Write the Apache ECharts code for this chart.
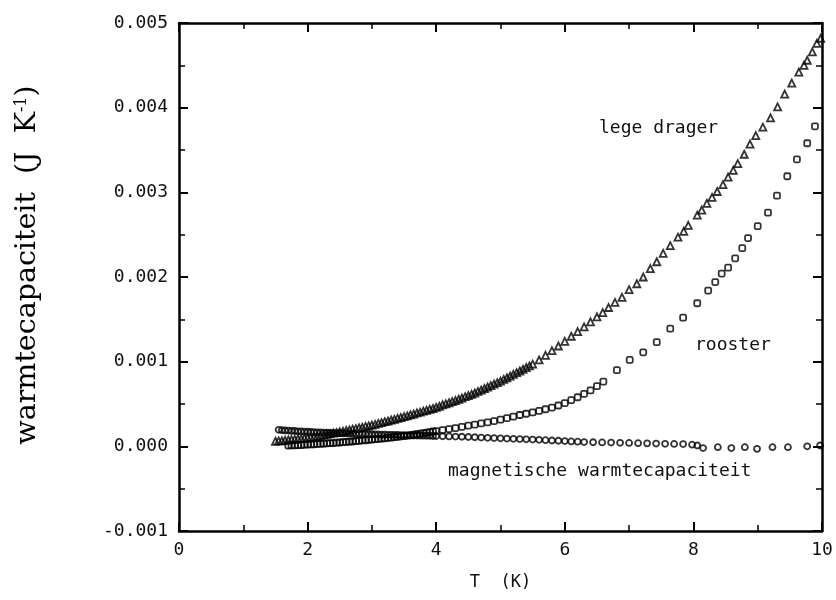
<!DOCTYPE html>
<html>
<head>
<meta charset="utf-8">
<script src="https://cdn.jsdelivr.net/npm/echarts@6/dist/echarts.min.js"></script>
<style>html,body{margin:0;padding:0;background:#fff}#c{width:836px;height:600px}</style>
</head>
<body>
<div id="c"></div>
<script>
// Temperatures (K) and heat capacities (in 1e-3 J/K, converted below)
var legeT = [1.50,1.55,1.60,1.65,1.70,1.75,1.80,1.85,1.90,1.95,2.00,2.05,2.10,2.15,2.20,2.25,2.30,2.35,2.40,2.45,2.50,2.55,2.60,2.65,2.70,2.75,2.80,2.85,2.90,2.95,3.00,3.05,3.10,3.15,3.20,3.25,3.30,3.35,3.40,3.45,3.50,3.55,3.60,3.65,3.70,3.75,3.80,3.85,3.90,3.95,4.00,4.05,4.1,4.15,4.2,4.25,4.3,4.35,4.4,4.45,4.5,4.55,4.6,4.65,4.7,4.75,4.8,4.85,4.9,4.95,5.0,5.05,5.1,5.15,5.2,5.25,5.3,5.35,5.4,5.45,5.5,5.6,5.7,5.8,5.9,6.0,6.1,6.2,6.3,6.4,6.5,6.59,6.68,6.78,6.89,7.0,7.12,7.22,7.33,7.43,7.53,7.64,7.76,7.85,7.92,8.06,8.13,8.21,8.29,8.37,8.46,8.54,8.62,8.69,8.79,8.88,8.97,9.08,9.20,9.31,9.42,9.53,9.64,9.72,9.77,9.85,9.92,9.98];
var legeC = [0.060,0.064,0.066,0.072,0.075,0.080,0.082,0.088,0.090,0.096,0.100,0.105,0.113,0.118,0.127,0.132,0.141,0.147,0.156,0.161,0.171,0.177,0.187,0.193,0.203,0.209,0.219,0.225,0.235,0.241,0.251,0.259,0.271,0.279,0.291,0.299,0.311,0.319,0.331,0.339,0.351,0.359,0.372,0.381,0.394,0.403,0.416,0.425,0.438,0.447,0.460,0.472,0.49,0.502,0.515,0.528,0.54,0.556,0.57,0.586,0.60,0.615,0.63,0.648,0.665,0.683,0.70,0.718,0.735,0.752,0.77,0.79,0.81,0.83,0.85,0.87,0.89,0.91,0.93,0.95,0.97,1.02,1.075,1.13,1.185,1.24,1.30,1.355,1.41,1.47,1.53,1.58,1.64,1.70,1.76,1.85,1.92,2.00,2.10,2.18,2.28,2.37,2.47,2.54,2.61,2.73,2.79,2.87,2.94,3.01,3.09,3.18,3.26,3.34,3.45,3.57,3.67,3.77,3.88,4.01,4.16,4.29,4.42,4.50,4.56,4.66,4.76,4.82];

var roosterT = [1.70,1.75,1.80,1.85,1.90,1.95,2.00,2.05,2.10,2.15,2.20,2.25,2.30,2.35,2.40,2.45,2.50,2.55,2.60,2.65,2.70,2.75,2.80,2.85,2.90,2.95,3.00,3.05,3.10,3.15,3.20,3.25,3.30,3.35,3.40,3.45,3.50,3.55,3.60,3.65,3.70,3.75,3.80,3.85,3.90,3.95,4.00,4.1,4.2,4.3,4.4,4.5,4.6,4.7,4.8,4.9,5.0,5.1,5.2,5.3,5.4,5.5,5.6,5.7,5.8,5.9,6.0,6.1,6.2,6.3,6.4,6.5,6.6,6.81,7.01,7.22,7.43,7.64,7.84,8.06,8.23,8.34,8.44,8.54,8.65,8.76,8.85,9.00,9.16,9.30,9.46,9.61,9.77,9.89];
var roosterC = [0.010,0.012,0.011,0.015,0.014,0.019,0.020,0.023,0.024,0.028,0.029,0.033,0.034,0.038,0.039,0.043,0.045,0.050,0.051,0.056,0.057,0.063,0.064,0.070,0.071,0.077,0.079,0.085,0.087,0.092,0.094,0.100,0.102,0.109,0.111,0.117,0.120,0.127,0.131,0.139,0.143,0.151,0.155,0.163,0.167,0.175,0.180,0.192,0.204,0.216,0.23,0.245,0.257,0.27,0.283,0.298,0.315,0.333,0.352,0.37,0.385,0.40,0.418,0.438,0.458,0.482,0.51,0.545,0.58,0.62,0.66,0.71,0.765,0.90,1.02,1.11,1.23,1.39,1.52,1.69,1.84,1.94,2.04,2.11,2.22,2.34,2.46,2.60,2.76,2.96,3.19,3.39,3.58,3.78];

var magT = [1.55,1.60,1.65,1.70,1.75,1.80,1.85,1.90,1.95,2.00,2.05,2.10,2.15,2.20,2.25,2.30,2.35,2.40,2.45,2.50,2.55,2.60,2.65,2.70,2.75,2.80,2.85,2.90,2.95,3.00,3.05,3.10,3.15,3.20,3.25,3.30,3.35,3.40,3.45,3.50,3.55,3.60,3.65,3.70,3.75,3.80,3.85,3.90,3.95,4.00,4.1,4.2,4.3,4.4,4.5,4.6,4.7,4.8,4.9,5.0,5.1,5.2,5.3,5.4,5.5,5.6,5.7,5.8,5.9,6.0,6.1,6.2,6.30,6.44,6.58,6.72,6.86,7.00,7.14,7.28,7.42,7.56,7.70,7.84,7.98,8.06,8.15,8.38,8.59,8.80,8.99,9.23,9.47,9.77,9.97];
var magC = [0.195,0.191,0.187,0.186,0.182,0.181,0.177,0.176,0.173,0.172,0.169,0.168,0.165,0.165,0.162,0.162,0.159,0.159,0.156,0.156,0.153,0.153,0.150,0.150,0.148,0.148,0.146,0.146,0.143,0.143,0.140,0.140,0.138,0.138,0.136,0.136,0.134,0.134,0.132,0.132,0.130,0.130,0.128,0.128,0.126,0.126,0.124,0.124,0.122,0.122,0.119,0.117,0.115,0.113,0.11,0.107,0.104,0.101,0.098,0.095,0.092,0.089,0.086,0.083,0.08,0.077,0.073,0.069,0.066,0.062,0.058,0.055,0.05,0.048,0.046,0.044,0.042,0.04,0.037,0.035,0.033,0.03,0.028,0.027,0.02,0.01,-0.02,-0.01,-0.02,-0.01,-0.03,-0.01,-0.01,0.0,0.01];

var xTicks = [0,2,4,6,8,10];
var yTicks = [-0.001,0.000,0.001,0.002,0.003,0.004,0.005];

function pairs(t, c) { return t.map(function (v, i) { return [v, c[i] * 1e-3]; }); }

var mono = 'DejaVu Sans Mono';
var chart = echarts.init(document.getElementById('c'), null, {renderer: 'canvas'});
var axisLine = {show: true, onZero: false, lineStyle: {color: '#000', width: 2.5}};
var tickStyle = {show: true, inside: true, length: 9, lineStyle: {color: '#000', width: 2}};
var minorStyle = {show: true, splitNumber: 2, length: 6, lineStyle: {color: '#000', width: 1.5}};
var hollow = {color: 'rgba(255,255,255,0)', borderColor: '#000', borderWidth: 1.8};

chart.setOption({
  animation: false,
  backgroundColor: '#fff',
  grid: {left: 179, right: 14, top: 23, bottom: 69},
  xAxis: [{
    type: 'value', min: xTicks[0], max: xTicks[xTicks.length - 1], interval: 2,
    axisLine: axisLine, axisTick: tickStyle, minorTick: minorStyle,
    splitLine: {show: false},
    axisLabel: {color: '#111', fontFamily: mono, fontSize: 18, margin: 10},
    name: 'T  (K)', nameLocation: 'middle', nameGap: 43,
    nameTextStyle: {color: '#111', fontFamily: mono, fontSize: 17}
  }, {
    type: 'value', position: 'top', min: 0, max: 10, interval: 2,
    axisLine: axisLine, axisTick: tickStyle, minorTick: minorStyle,
    splitLine: {show: false}, axisLabel: {show: false}
  }],
  yAxis: [{
    type: 'value', min: yTicks[0], max: yTicks[yTicks.length - 1], interval: 0.001,
    axisLine: axisLine, axisTick: tickStyle, minorTick: minorStyle,
    splitLine: {show: false},
    axisLabel: {color: '#111', fontFamily: mono, fontSize: 18, margin: 11,
      formatter: function (v) { return v.toFixed(3); }}
  }, {
    type: 'value', position: 'right', min: -0.001, max: 0.005, interval: 0.001,
    axisLine: axisLine, axisTick: tickStyle, minorTick: minorStyle,
    splitLine: {show: false}, axisLabel: {show: false}
  }],
  series: [{
    name: 'lege drager', type: 'scatter', symbol: 'triangle', symbolSize: 7,
    itemStyle: hollow, data: pairs(legeT, legeC)
  }, {
    name: 'rooster', type: 'scatter', symbol: 'roundRect', symbolSize: 6,
    itemStyle: hollow, data: pairs(roosterT, roosterC)
  }, {
    name: 'magnetische warmtecapaciteit', type: 'scatter', symbol: 'circle', symbolSize: 6,
    itemStyle: hollow, data: pairs(magT, magC)
  }],
  graphic: [{
    type: 'text', left: 599, top: 119,
    style: {text: 'lege drager', fill: '#111', font: '18px "DejaVu Sans Mono"'}
  }, {
    type: 'text', left: 695, top: 336,
    style: {text: 'rooster', fill: '#111', font: '18px "DejaVu Sans Mono"'}
  }, {
    type: 'text', left: 448, top: 462,
    style: {text: 'magnetische warmtecapaciteit', fill: '#111', font: '18px "DejaVu Sans Mono"'}
  }, {
    type: 'text', x: 28, y: 265, rotation: Math.PI / 2,
    style: {
      text: '{a|warmtecapaciteit  (J  K}{s|-1}{a|)}',
      align: 'center', verticalAlign: 'middle',
      rich: {
        a: {fontFamily: 'DejaVu Serif', fontSize: 28.5, fill: '#000'},
        s: {fontFamily: 'DejaVu Serif', fontSize: 16, fill: '#000', verticalAlign: 'top', padding: [0, 0, 12, 0]}
      }
    }
  }]
});
</script>
</body>
</html>
